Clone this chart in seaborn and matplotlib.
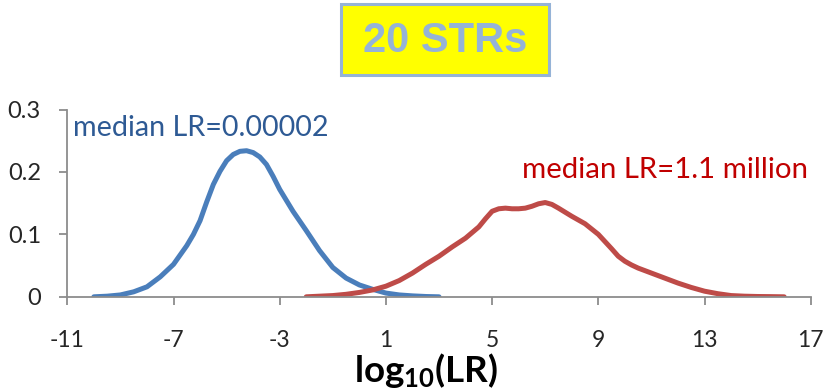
import numpy as np
import pandas as pd
import matplotlib
matplotlib.use("Agg")
import matplotlib.pyplot as plt
import seaborn as sns
from matplotlib.patches import Rectangle

# ---- data ----
blue_x = [-10, -9.5, -9, -8.5, -8, -7.5, -7, -6.5, -6.25, -6, -5.75, -5.5, -5.25, -5,
          -4.75, -4.5, -4.25, -4, -3.75, -3.5, -3.25, -3,
          -2.5, -2, -1.5, -1, -0.5, 0, 0.5, 1, 1.5, 2, 2.5, 3]
blue_y = [0, 0.001, 0.003, 0.008, 0.016, 0.032, 0.052, 0.082, 0.100, 0.122, 0.152, 0.180,
          0.201, 0.218, 0.228, 0.233, 0.234, 0.231, 0.224, 0.212, 0.193, 0.172,
          0.137, 0.106, 0.074, 0.047, 0.030, 0.019, 0.012, 0.006, 0.003, 0.0015, 0.0005, 0]
red_x = [-2, -1.5, -1, -0.5, 0, 0.5, 1, 1.5, 2, 2.5, 3, 3.5, 4, 4.5, 4.75, 5, 5.25, 5.5,
         5.75, 6, 6.25, 6.5, 6.75, 7, 7.25, 7.5, 8, 8.5, 9, 9.5, 9.75, 10, 10.25, 10.5, 11,
         11.5, 12, 12.5, 13, 13.5, 14, 14.5, 15, 15.5, 16]
red_y = [0, 0.001, 0.002, 0.004, 0.007, 0.011, 0.017, 0.026, 0.038, 0.052, 0.065, 0.080,
         0.094, 0.112, 0.125, 0.137, 0.141, 0.142, 0.141, 0.141, 0.142, 0.145, 0.149, 0.151,
         0.148, 0.142, 0.129, 0.117, 0.100, 0.077, 0.065, 0.057, 0.051, 0.046, 0.038,
         0.030, 0.022, 0.015, 0.009, 0.005, 0.002, 0.001, 0.0005, 0.0003, 0]
x_ticks = [-11, -7, -3, 1, 5, 9, 13, 17]
y_ticks = [0, 0.1, 0.2, 0.3]
y_tick_labels = ["0", "0.1", "0.2", "0.3"]
title_text = "20 STRs"
blue_label = "median LR=0.00002"
red_label = "median LR=1.1 million"

sns.set_theme(style="white")
plt.rcParams['font.family'] = ['Lato', 'DejaVu Sans']
plt.rcParams['mathtext.fontset'] = 'custom'
plt.rcParams['mathtext.rm'] = 'Lato'
plt.rcParams['mathtext.bf'] = 'Lato:bold'

fig = plt.figure(figsize=(8.26, 3.89), dpi=100)
ax = fig.add_axes([0.0815, 0.237, 0.9, 0.4815])

blue_df = pd.DataFrame({"x": blue_x, "y": blue_y})
red_df = pd.DataFrame({"x": red_x, "y": red_y})
kw = dict(linewidth=3.6, solid_capstyle="round", solid_joinstyle="round")
sns.lineplot(data=blue_df, x="x", y="y", ax=ax, color="#4A7EBB", **kw)
sns.lineplot(data=red_df, x="x", y="y", ax=ax, color="#BE4B48", **kw)

ax.set_xlim(-11, 17)
ax.set_ylim(0, 0.3)
ax.set_xticks(x_ticks)
ax.set_xticklabels([str(t) for t in x_ticks])
ax.set_yticks(y_ticks)
ax.set_yticklabels(y_tick_labels)

for s in ["top", "right"]:
    ax.spines[s].set_visible(False)
for s in ["left", "bottom"]:
    ax.spines[s].set_color("#8C8C8C")
    ax.spines[s].set_linewidth(1.3)
ax.tick_params(axis="x", direction="out", length=6, width=1.3, color="#8C8C8C",
               labelsize=16.5, pad=18, bottom=True)
ax.tick_params(axis="y", direction="out", length=6, width=1.3, color="#8C8C8C",
               labelsize=17, pad=13, left=True)
ax.set_ylabel("")
ax.set_xlabel(r"$\mathbf{log_{10}(LR)}$", fontsize=26.5, color="black")
ax.xaxis.set_label_coords(0.4825, -0.29)

ax.text(-10.8, 0.270, blue_label, color="#2E5A94", fontsize=20.7, ha="left", va="center")
ax.text(16.9, 0.203, red_label, color="#C00000", fontsize=21.2, ha="right", va="center")

# title box
fig.patches.append(Rectangle((341 / 826, 1 - 75 / 389), 208 / 826, 71 / 389,
                             transform=fig.transFigure, facecolor="#FFFF00",
                             edgecolor="#95B3D7", linewidth=2.2, zorder=0))
fig.text(445 / 826, 1 - 41 / 389, title_text, fontsize=30, fontweight="bold",
         color="#95B3D7", ha="center", va="center",
         family=["Liberation Sans", "DejaVu Sans"])

fig.savefig("out.png", dpi=100)
